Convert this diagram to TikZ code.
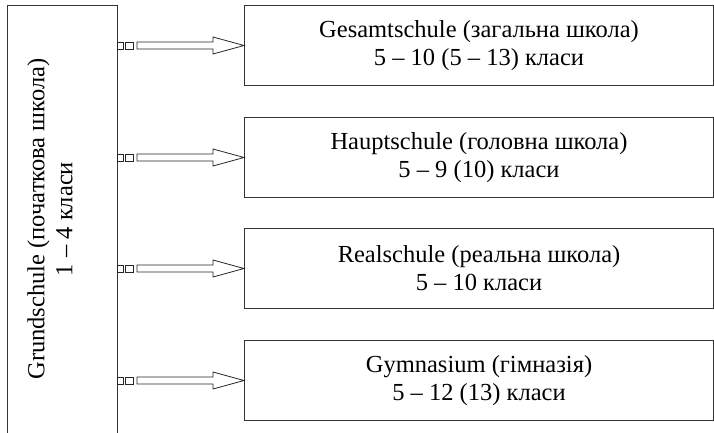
\documentclass[tikz,border=0pt]{standalone}
\usepackage{fontspec}
\setmainfont{Liberation Serif}
\usetikzlibrary{positioning,calc}
\begin{document}
\begin{tikzpicture}[x=1pt, y=-1pt,
    school/.style={draw=black!80, line width=1pt, minimum width=469pt, minimum height=80pt, inner sep=0pt, align=center, font=\fontsize{24.5}{28}\selectfont},
    link/.style={draw=black!85, line width=0.8pt, fill=white}
]
\useasboundingbox (0,0) rectangle (714,433);

% Primary school, runs past the lower edge
\begin{scope}
\clip (0,0) rectangle (714,433);
\node[draw=black!80, line width=1pt, minimum width=110pt, minimum height=450pt, inner sep=0pt, anchor=north west] (grund) at (7,5) {};
\end{scope}
\node[rotate=90, align=center, font=\fontsize{24.5}{28}\selectfont] (grundtext) at (50,219) {Grundschule (початкова школа)\\1 -- 4 класи};

% Secondary schools
\node[school, anchor=north west] (gesamt) at (244,5) {Gesamtschule (загальна школа)\\5 -- 10 (5 -- 13) класи};
\node[school, anchor=north west] (haupt) at (244,117) {Hauptschule (головна школа)\\5 -- 9 (10) класи};
\node[school, anchor=north west] (real) at (244,228) {Realschule (реальна школа)\\5 -- 10 класи};
\node[school, anchor=north west] (gymn) at (244,340) {Gymnasium (гімназія)\\5 -- 12 (13) класи};

% Hollow arrows with two small squares
\foreach \b in {gesamt,haupt,real,gymn} {
  \draw[link] ($(\b.west)+(-127,-3.5)$) rectangle ($(\b.west)+(-121,3.5)$);
  \draw[link] ($(\b.west)+(-119,-3.5)$) rectangle ($(\b.west)+(-111,3.5)$);
  \draw[link] ($(\b.west)+(-107,-3.5)$) -- ($(\b.west)+(-31,-3.5)$) -- ($(\b.west)+(-31,-8.5)$)
    -- (\b.west) -- ($(\b.west)+(-31,8.5)$) -- ($(\b.west)+(-31,3.5)$) -- ($(\b.west)+(-107,3.5)$) -- cycle;
}
\end{tikzpicture}
\end{document}
